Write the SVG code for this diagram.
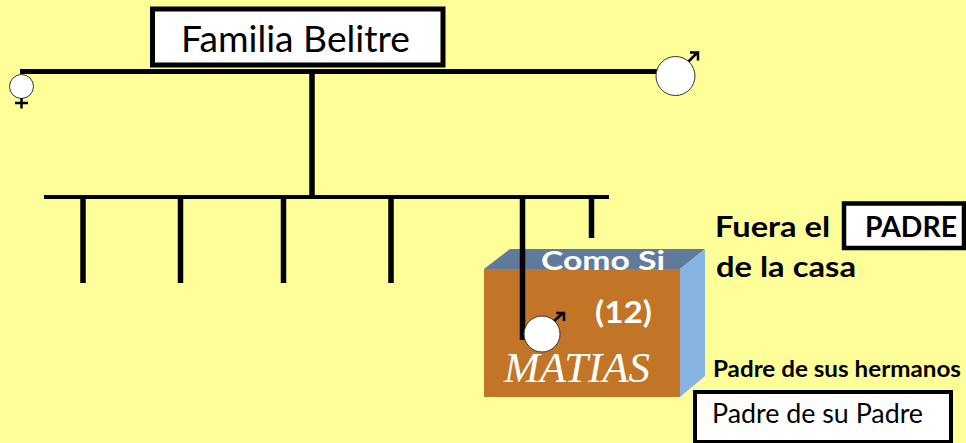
<svg xmlns="http://www.w3.org/2000/svg" width="966" height="443" viewBox="0 0 966 443">
<style>
.ln{stroke:#000;stroke-width:5.500;fill:none}
.box{fill:#fff;stroke:#000}
.c{fill:#fff;stroke:#333;stroke-width:1}
.sym{stroke:#000;stroke-width:2.500;fill:none}
text{font-family:"Lato","Open Sans","DejaVu Sans",sans-serif}
.k{fill:#000;font-weight:700;font-size:29px}
.w{fill:#fff;font-weight:700}
</style>
<rect width="966" height="443" fill="#ffff99"/>
<g id="box3d">
<polygon points="484,269 510,249 705,249 680,269" fill="#5f7a9b"/>
<polygon points="680,269 705,249 705,376 680,397" fill="#87b3e0"/>
<rect x="484" y="269" width="196" height="128" fill="#c27526"/>
<text class="w" x="541" y="270" font-size="27" textLength="124" lengthAdjust="spacingAndGlyphs">Como Si</text>
<text class="w" x="595" y="323" font-size="30" textLength="57" lengthAdjust="spacingAndGlyphs">(12)</text>
<text x="504" y="382" font-size="42" font-style="italic" fill="#fff" textLength="146" lengthAdjust="spacingAndGlyphs" style="font-family:'Liberation Serif',serif">MATIAS</text>
</g>
<g id="connectors">
<path d="M20 71.500H660" stroke="#000" stroke-width="5" fill="none"/>
<path class="ln" d="M312 74V196"/>
<path d="M44 197H609" stroke="#000" stroke-width="4" fill="none"/>
<path class="ln" d="M83 197V283M180.500 197V283M283.500 197V283M391 197V283M522.500 197V340M591.500 197V238"/>
</g>
<g id="title">
<rect class="box" x="152.500" y="9" width="290.500" height="56" stroke-width="5"/>
<text x="181" y="52" font-size="37" fill="#000" textLength="229" lengthAdjust="spacingAndGlyphs">Familia Belitre</text>
</g>
<g id="female">
<circle class="c" cx="21.500" cy="86.500" r="12"/>
<path class="sym" d="M21.500 98V108.500M15 103H28"/>
</g>
<g id="male">
<path class="sym" stroke-width="3" d="M687 63L697 53M690 52.500H698V60.500"/>
<circle class="c" cx="675.500" cy="76" r="19.500"/>
</g>
<g id="matias">
<path class="sym" d="M553 322L563 313M556 313H564V321"/>
<circle class="c" cx="542" cy="334" r="18"/>
</g>
<g id="fuera">
<text class="k" x="715" y="237" textLength="115" lengthAdjust="spacingAndGlyphs">Fuera el</text>
<text class="k" x="716" y="277" textLength="140" lengthAdjust="spacingAndGlyphs">de la casa</text>
</g>
<g id="padre">
<rect class="box" x="844" y="203.500" width="120" height="44.500" stroke-width="4.500"/>
<text x="865" y="237" font-size="28" font-weight="700" fill="#000" textLength="92" lengthAdjust="spacingAndGlyphs">PADRE</text>
</g>
<g id="hermanos">
<text x="713" y="377" font-size="22" font-weight="700" fill="#000" textLength="248" lengthAdjust="spacingAndGlyphs">Padre de sus hermanos</text>
</g>
<g id="padre-su-padre">
<rect class="box" x="695" y="392" width="256" height="50" stroke-width="4"/>
<text x="712" y="423" font-size="26" fill="#000" textLength="211" lengthAdjust="spacingAndGlyphs">Padre de su Padre</text>
</g>
</svg>
